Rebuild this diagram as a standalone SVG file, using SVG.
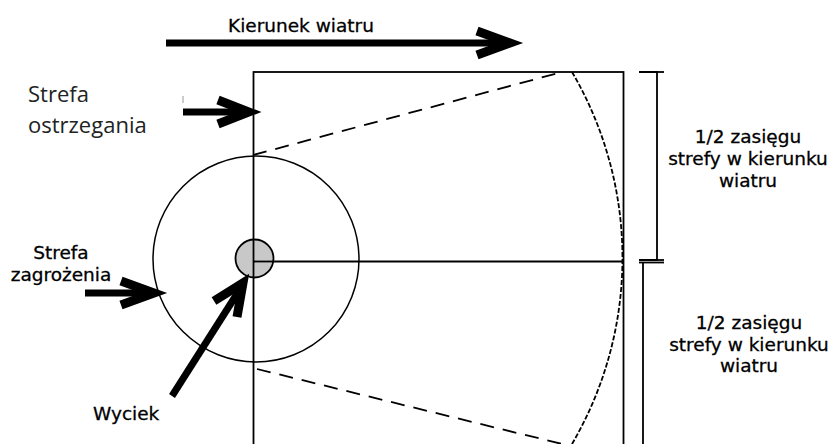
<svg xmlns="http://www.w3.org/2000/svg" width="834" height="444" viewBox="0 0 834 444">
<style>
.lbl{font-family:"DejaVu Sans",Verdana,sans-serif;font-size:18.5px;fill:#000;stroke:#000;stroke-width:0.3}
.lbl2{font-family:"Open Sans","Noto Sans",sans-serif;font-size:22px;fill:#222}
.thin{fill:none;stroke:#000;stroke-width:1.8}
.circ{fill:none;stroke:#000;stroke-width:1.5}
.dash{fill:none;stroke:#000;stroke-width:1.8;stroke-dasharray:14 9}
.dot{fill:none;stroke:#000;stroke-width:1.8;stroke-dasharray:5 2}
.shaft{fill:none;stroke:#000;stroke-width:7}
.head{fill:none;stroke:#000;stroke-width:9;stroke-linejoin:miter;stroke-linecap:butt}
</style>
<rect width="834" height="444" fill="#fff"/>
<g id="zone">
<rect x="253.5" y="72" width="370" height="390" class="thin"/>
<line x1="254" y1="261.5" x2="623" y2="261.5" class="thin"/>
<circle cx="256" cy="259" r="103" class="circ"/>
<line x1="253" y1="155" x2="562" y2="72" class="dash"/>
<line x1="257" y1="369" x2="562" y2="444" class="dash"/>
<path d="M572 72 A368 368 0 0 1 572 444" class="dot"/>
</g>
<g id="leak">
<circle cx="254.5" cy="258.5" r="19" fill="#c8c8c8" stroke="#000" stroke-width="1.8"/>
<line x1="253.5" y1="240" x2="253.5" y2="278" class="thin"/>
<line x1="254" y1="261.5" x2="273" y2="261.5" class="thin"/>
</g>
<g id="connectors">
<line x1="166" y1="43" x2="508" y2="43" class="shaft"/>
<polyline points="477,31 510,43 477,55" class="head"/>
<line x1="183" y1="112" x2="246" y2="112" class="shaft"/>
<polyline points="218,100 249,112 218,124" class="head"/>
<line x1="85" y1="293" x2="152" y2="293" class="shaft"/>
<polyline points="121,281 154,293 121,305" class="head"/>
<line x1="172" y1="396" x2="242" y2="286" class="shaft"/>
<polyline points="214,301 243,283 237,317" class="head"/>
<line x1="183" y1="96" x2="183" y2="103" stroke="#999" stroke-width="1"/>
</g>
<g id="brackets">
<polyline points="639,72 657,72 657,260 639,260" class="thin"/>
<line x1="657" y1="72" x2="664" y2="72" class="thin"/>
<line x1="657" y1="260" x2="664" y2="260" class="thin"/>
<line x1="639" y1="262.5" x2="664" y2="262.5" class="thin"/>
<line x1="643" y1="262.5" x2="643" y2="444" class="thin"/>
</g>
<g id="labels">
<text class="lbl" x="228" y="32">Kierunek wiatru</text>
<text class="lbl2" x="28" y="102">Strefa</text>
<text class="lbl2" x="28" y="133">ostrzegania</text>
<text class="lbl" x="61" y="259" text-anchor="middle">Strefa</text>
<text class="lbl" x="61" y="281" text-anchor="middle">zagrożenia</text>
<text class="lbl" x="93" y="420">Wyciek</text>
<text class="lbl" x="748" y="143" text-anchor="middle">1/2 zasięgu</text>
<text class="lbl" x="748" y="165" text-anchor="middle">strefy w kierunku</text>
<text class="lbl" x="748" y="187" text-anchor="middle">wiatru</text>
<text class="lbl" x="749" y="329" text-anchor="middle">1/2 zasięgu</text>
<text class="lbl" x="749" y="351" text-anchor="middle">strefy w kierunku</text>
<text class="lbl" x="749" y="372" text-anchor="middle">wiatru</text>
</g>
</svg>
